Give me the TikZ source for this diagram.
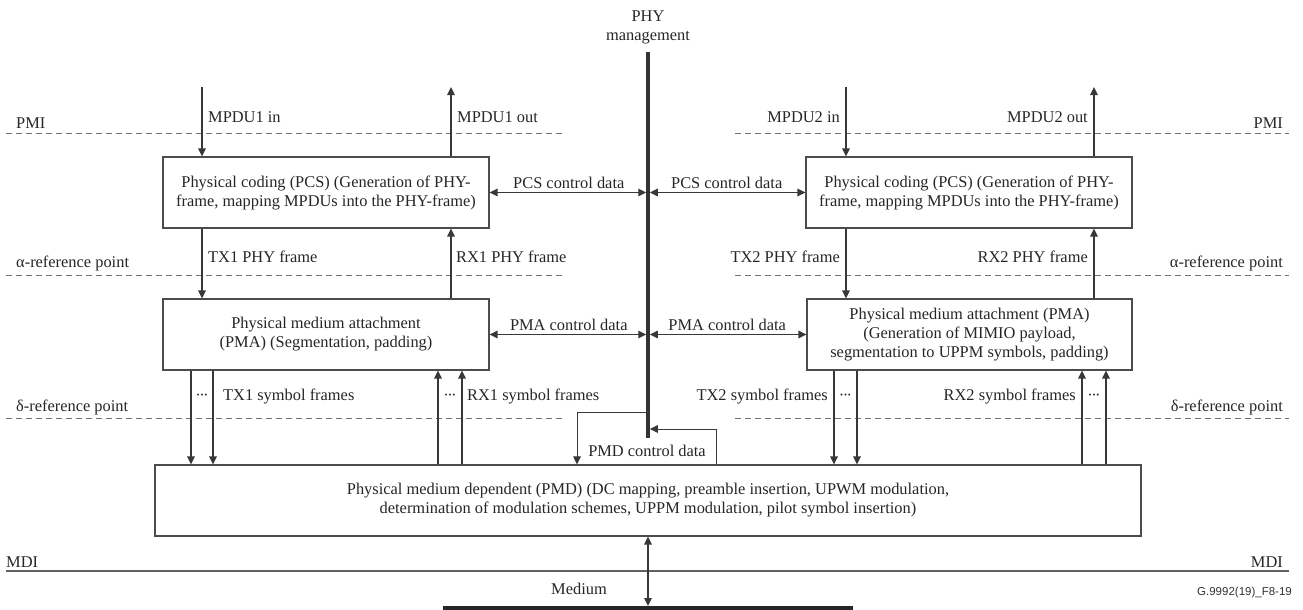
\documentclass[tikz,border=0pt]{standalone}
\usepackage{fontspec}
\setmainfont{Liberation Serif}
\newfontfamily\figsans{Liberation Sans}
\usetikzlibrary{arrows.meta}

\newcommand{\tightdots}{·\kern-1.6pt·\kern-1.6pt·}

\begin{document}
\begin{tikzpicture}[x=1pt,y=-1pt,
  font=\fontsize{16.4}{19}\selectfont,
  every node/.style={text=black!85},
  blk/.style={draw=black!70, line width=1.1pt, fill=white, align=center, inner sep=0pt},
  flow/.style={draw=black!78, line width=1.3pt, -{Triangle[length=8pt,width=7.5pt]}},
  twoway/.style={draw=black!78, line width=1.3pt, {Triangle[length=8pt,width=7.5pt]}-{Triangle[length=8pt,width=7.5pt]}},
  thinflow/.style={draw=black!78, line width=1pt, -{Triangle[length=8pt,width=7.5pt]}},
  refline/.style={draw=black!55, line width=1pt, dash pattern=on 6pt off 4pt},
  lbl/.style={inner sep=0pt},
  ctl/.style={anchor=south, inner sep=3pt, pos=0.5},
  dots/.style={inner sep=0pt},
]
\useasboundingbox (0,0) rectangle (1303,610);

% ---- reference points (dashed) ----
\foreach \n/\y in {pmi/133, alpha/275, delta/418}{
  \coordinate (\n L1) at (6,\y);   \coordinate (\n L2) at (565,\y);
  \coordinate (\n R1) at (735,\y); \coordinate (\n R2) at (1289,\y);
  \draw[refline] (\n L1) -- (\n L2);
  \draw[refline] (\n R1) -- (\n R2);
}
\node[lbl, anchor=west] (pmiLt) at (16,123) {PMI};
\node[lbl, anchor=east] (pmiRt) at (1283,123) {PMI};
\node[lbl, anchor=west] (alphaLt) at (16,263) {α-reference point};
\node[lbl, anchor=east] (alphaRt) at (1283,263) {α-reference point};
\node[lbl, anchor=west] (deltaLt) at (16,407) {δ-reference point};
\node[lbl, anchor=east] (deltaRt) at (1283,407) {δ-reference point};

% ---- MDI line ----
\coordinate (mdiL) at (6,571);
\coordinate (mdiR) at (1289,571);
\draw[black!62, line width=1.4pt] (mdiL) -- (mdiR);
\node[lbl, anchor=west] (mdiLt) at (6,562) {MDI};
\node[lbl, anchor=east] (mdiRt) at (1283,562) {MDI};

% ---- blocks ----
\node[blk, minimum width=326pt, minimum height=71pt] (pcs1) at (326,192.5)
  {Physical coding (PCS) (Generation of PHY-\\frame, mapping MPDUs into the PHY-frame)};
\node[blk, minimum width=326pt, minimum height=71pt] (pcs2) at (969,192.5)
  {Physical coding (PCS) (Generation of PHY-\\frame, mapping MPDUs into the PHY-frame)};
\node[blk, minimum width=326pt, minimum height=71pt] (pma1) at (326,334.5)
  {Physical medium attachment\\(PMA) (Segmentation, padding)};
\node[blk, minimum width=325pt, minimum height=71pt] (pma2) at (969.5,334.5)
  {Physical medium attachment (PMA)\\(Generation of MIMIO payload,\\segmentation to UPPM symbols, padding)};
\node[blk, minimum width=986pt, minimum height=71pt] (pmd) at (648,500.5)
  {Physical medium dependent (PMD) (DC mapping, preamble insertion, UPWM modulation,\\determination of modulation schemes, UPPM modulation, pilot symbol insertion)};

% ---- PHY management bar ----
\coordinate (mgmt) at (648,52);
\coordinate (mgmtEnd) at (648,438);
\draw[black!80, line width=3.5pt] (mgmt) -- (mgmtEnd);
\node[lbl, align=center] (mgmtLbl) at (648,27) {PHY\\management};

% ---- control data ----
\draw[twoway, shorten >=1.75pt] (pcs1.east) -- (pcs1.east -| mgmt)
  node[ctl] (pcsc1) {PCS control data};
\draw[twoway, shorten >=1.75pt] (pcs2.west) -- (pcs2.west -| mgmt)
  node[ctl] (pcsc2) {PCS control data};
\draw[twoway, shorten >=1.75pt] (pma1.east) -- (pma1.east -| mgmt)
  node[ctl] (pmac1) {PMA control data};
\draw[twoway, shorten >=1.75pt] (pma2.west) -- (pma2.west -| mgmt)
  node[ctl] (pmac2) {PMA control data};

% PMD control data loop
\coordinate (pmdOut) at (648,412);
\coordinate (pmdTurnL) at (577,412);
\coordinate (pmdTurnR) at (716,429);
\coordinate (pmdIn) at (648,429);
\draw[thinflow] (pmdOut) -- (pmdTurnL) -- (pmd.north -| pmdTurnL);
\draw[thinflow, shorten >=1.75pt] (pmd.north -| pmdTurnR) -- (pmdTurnR) -- (pmdIn);
\node[lbl] (pmdc) at (647,451) {PMD control data};

% ---- MPDU interfaces ----
\coordinate (in1) at (202,87);
\coordinate (out1) at (451,87);
\coordinate (in2) at (846,87);
\coordinate (out2) at (1094,87);
\draw[flow] (in1) -- (in1 |- pcs1.north);
\draw[flow] (out1 |- pcs1.north) -- (out1);
\draw[flow] (in2) -- (in2 |- pcs2.north);
\draw[flow] (out2 |- pcs2.north) -- (out2);
\node[lbl, anchor=west] (in1t) at (208,117) {MPDU1 in};
\node[lbl, anchor=west] (out1t) at (457,117) {MPDU1 out};
\node[lbl, anchor=east] (in2t) at (840,117) {MPDU2 in};
\node[lbl, anchor=east] (out2t) at (1088,117) {MPDU2 out};

% ---- PHY frames ----
\draw[flow] (in1 |- pcs1.south) -- (in1 |- pma1.north);
\draw[flow] (out1 |- pma1.north) -- (out1 |- pcs1.south);
\draw[flow] (in2 |- pcs2.south) -- (in2 |- pma2.north);
\draw[flow] (out2 |- pma2.north) -- (out2 |- pcs2.south);
\node[lbl, anchor=west] (tx1f) at (208,257) {TX1 PHY frame};
\node[lbl, anchor=west] (rx1f) at (456,257) {RX1 PHY frame};
\node[lbl, anchor=east] (tx2f) at (840,257) {TX2 PHY frame};
\node[lbl, anchor=east] (rx2f) at (1088,257) {RX2 PHY frame};

% ---- symbol frames ----
\foreach \n/\x in {ta/191, tb/213, tc/834, td/857, ra/438, rb/462, rc/1082, rd/1106}
  \coordinate (\n) at (\x,400);
\draw[flow] (ta |- pma1.south) -- (ta |- pmd.north);
\draw[flow] (tb |- pma1.south) -- (tb |- pmd.north);
\draw[flow] (ra |- pmd.north) -- (ra |- pma1.south);
\draw[flow] (rb |- pmd.north) -- (rb |- pma1.south);
\draw[flow] (tc |- pma2.south) -- (tc |- pmd.north);
\draw[flow] (td |- pma2.south) -- (td |- pmd.north);
\draw[flow] (rc |- pmd.north) -- (rc |- pma2.south);
\draw[flow] (rd |- pmd.north) -- (rd |- pma2.south);
\node[dots] (d1) at (202,397) {\tightdots};
\node[dots] (d2) at (450,397) {\tightdots};
\node[dots] (d3) at (845.5,397) {\tightdots};
\node[dots] (d4) at (1094,397) {\tightdots};
\node[lbl, anchor=west] (tx1s) at (223,396) {TX1 symbol frames};
\node[lbl, anchor=west] (rx1s) at (467,396) {RX1 symbol frames};
\node[lbl, anchor=east] (tx2s) at (828,396) {TX2 symbol frames};
\node[lbl, anchor=east] (rx2s) at (1076,396) {RX2 symbol frames};

% ---- medium ----
\coordinate (medL) at (443,608);
\coordinate (medR) at (853,608);
\coordinate (med) at (648,608);
\draw[black!85, line width=4pt] (medL) -- (medR);
\draw[twoway, shorten >=2pt] (pmd.south) -- (med);
\node[lbl] (medt) at (579,589) {Medium};

\node[lbl, anchor=east, font=\figsans\fontsize{11.5}{13}\selectfont, text=black!80] (figid) at (1292,593) {G.9992(19)\_F8-19};
\end{tikzpicture}
\end{document}
